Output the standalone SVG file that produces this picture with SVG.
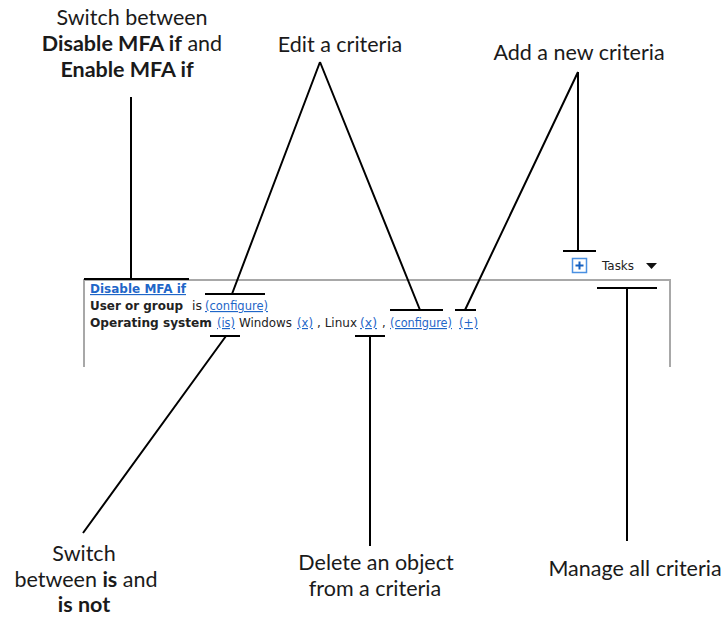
<svg xmlns="http://www.w3.org/2000/svg" width="722" height="618" viewBox="0 0 722 618">
<style>
.lbl{font-family:Lato,"Open Sans","Liberation Sans",sans-serif;font-size:21.5px;fill:#1a1a1a;text-anchor:middle}
.b{font-weight:bold}
.ui{font-family:"DejaVu Sans","Liberation Sans",sans-serif;font-size:11.5px;fill:#222}
.lnk{fill:#1f66c8;text-decoration:underline}
.ld{stroke:#000;stroke-width:2;fill:none}
.frame{stroke:#a8a8a8;stroke-width:2;fill:none}
</style>
<rect width="722" height="618" fill="#fff"/>
<g id="panel">
<path class="frame" d="M84,367 V280 H670 V367"/>
<text class="ui b lnk" x="90" y="293" textLength="96" lengthAdjust="spacingAndGlyphs">Disable MFA if</text>
<text class="ui b" x="90" y="310" textLength="93" lengthAdjust="spacingAndGlyphs">User or group</text>
<text class="ui" x="192" y="310" textLength="10" lengthAdjust="spacingAndGlyphs">is</text>
<text class="ui lnk" x="205" y="310" textLength="63" lengthAdjust="spacingAndGlyphs">(configure)</text>
<text class="ui b" x="90" y="327" textLength="122" lengthAdjust="spacingAndGlyphs">Operating system</text>
<text class="ui lnk" x="217" y="327" textLength="18" lengthAdjust="spacingAndGlyphs">(is)</text>
<text class="ui" x="239" y="327" textLength="53" lengthAdjust="spacingAndGlyphs">Windows</text>
<text class="ui lnk" x="297" y="327" textLength="16" lengthAdjust="spacingAndGlyphs">(x)</text>
<text class="ui" x="317" y="327" textLength="40" lengthAdjust="spacingAndGlyphs">, Linux</text>
<text class="ui lnk" x="360" y="327" textLength="17" lengthAdjust="spacingAndGlyphs">(x)</text>
<text class="ui" x="382" y="327">,</text>
<text class="ui lnk" x="390" y="327" textLength="62" lengthAdjust="spacingAndGlyphs">(configure)</text>
<text class="ui lnk" x="459" y="327" textLength="19" lengthAdjust="spacingAndGlyphs">(+)</text>
</g>
<g id="tasks">
<rect x="572.5" y="258.5" width="14" height="14" fill="#fff" stroke="#4a90e2" stroke-width="1.5"/>
<path d="M579.5,261.5 V269.5 M575.5,265.5 H583.5" stroke="#1560c0" stroke-width="2"/>
<text class="ui" x="602" y="270" fill="#333" textLength="32" lengthAdjust="spacingAndGlyphs">Tasks</text>
<polygon points="646,263 657,263 651.5,269" fill="#111"/>
</g>
<g id="connectors">
<path class="ld" d="M131,97 V279 M84,279 H189"/>
<path class="ld" d="M320,62 L232,294 M205,294 H265 M320,62 L420,310 M390,310 H443"/>
<path class="ld" d="M578,72 V251 M563,251 H596 M578,72 L465,310 M455,310 H476"/>
<path class="ld" d="M597,288 H657 M627,288 V541"/>
<path class="ld" d="M210,336 H240 M226,336 L83,533"/>
<path class="ld" d="M355,336 H385 M370,336 V546"/>
</g>
<g id="label-switch-mfa">
<text class="lbl" x="132" y="25">Switch between</text>
<text class="lbl" x="132" y="51"><tspan class="b">Disable MFA if</tspan> and</text>
<text class="lbl b" x="127" y="77">Enable MFA if</text>
</g>
<g id="label-edit">
<text class="lbl" x="340" y="52">Edit a criteria</text>
</g>
<g id="label-add">
<text class="lbl" x="579" y="60">Add a new criteria</text>
</g>
<g id="label-is">
<text class="lbl" x="84" y="561">Switch</text>
<text class="lbl" x="86" y="587">between <tspan class="b">is</tspan> and</text>
<text class="lbl b" x="84" y="612">is not</text>
</g>
<g id="label-delete">
<text class="lbl" x="376" y="570">Delete an object</text>
<text class="lbl" x="375" y="596">from a criteria</text>
</g>
<g id="label-manage">
<text class="lbl" x="635" y="576">Manage all criteria</text>
</g>
</svg>
